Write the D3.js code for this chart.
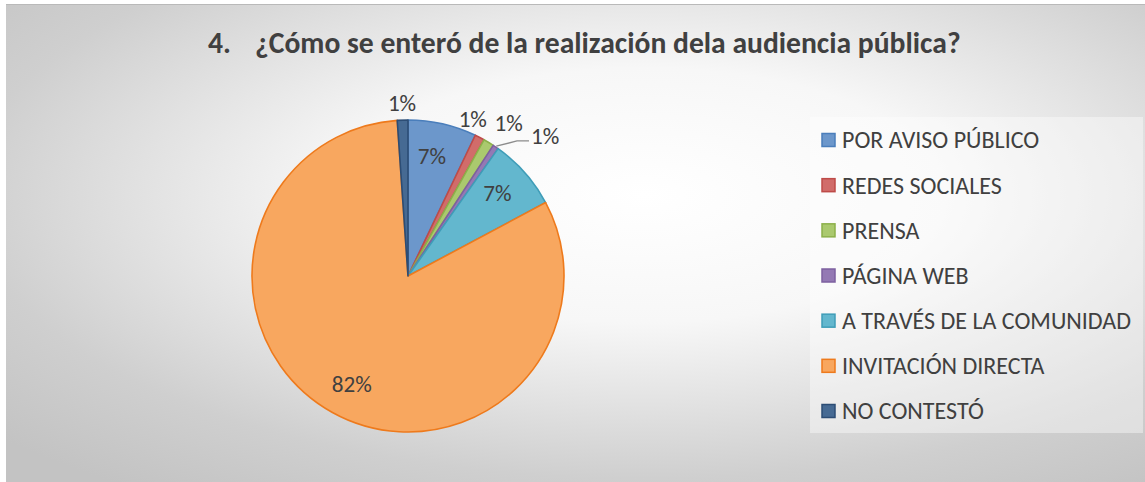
<!DOCTYPE html>
<html>
<head>
<meta charset="utf-8">
<script src="https://cdn.jsdelivr.net/npm/d3@7"></script>
<style>
  html, body { margin: 0; padding: 0; background: #ffffff; }
  svg { display: block; }
  text { font-family: Carlito, Lato, "Open Sans", sans-serif; }
</style>
</head>
<body>
<svg id="chart" width="1145" height="482"></svg>
<script>
// ---- data ----
const titleNumber = "4.";
const titleText = "¿Cómo se enteró de la realización dela audiencia pública?";
const categories = ["POR AVISO PÚBLICO", "REDES SOCIALES", "PRENSA", "PÁGINA WEB",
                    "A TRAVÉS DE LA COMUNIDAD", "INVITACIÓN DIRECTA", "NO CONTESTÓ"];
const values = [7.1, 1.0, 1.1, 0.6, 7.4, 81.7, 1.1];
const fills   = ["#6C97CB", "#D16C6A", "#AAC96E", "#9479B4", "#63B7CE", "#F8A75F", "#466A93"];
const strokes = ["#4A7EBB", "#BE4B48", "#8CB04A", "#7D60A0", "#3F9DB8", "#EE7A1C", "#2C4D75"];

// ---- layout ----
const W = 1145, H = 482;
const svg = d3.select("#chart");
const defs = svg.append("defs");
const grad = defs.append("radialGradient").attr("id", "bg")
  .attr("cx", 0.56).attr("cy", 0.4).attr("r", 0.76);
grad.append("stop").attr("offset", 0).attr("stop-color", "#ffffff");
grad.append("stop").attr("offset", 0.35).attr("stop-color", "#f7f7f7");
grad.append("stop").attr("offset", 0.78).attr("stop-color", "#cfcfcf");
grad.append("stop").attr("offset", 1).attr("stop-color", "#c3c3c3");

svg.append("rect").attr("x", 6).attr("y", 4).attr("width", W - 6).attr("height", H - 4)
  .attr("fill", "url(#bg)");
svg.append("line").attr("x1", 6).attr("x2", W).attr("y1", 4.5).attr("y2", 4.5)
  .attr("stroke", "#b9b9b9").attr("stroke-width", 1);

// ---- title ----
const tNum = svg.append("text").attr("x", 208).attr("y", 53)
  .attr("font-weight", "bold").attr("fill", "#404040").attr("font-size", 22).text(titleNumber);
const tMain = svg.append("text").attr("x", 255).attr("y", 53)
  .attr("font-weight", "bold").attr("fill", "#404040").attr("font-size", 22).text(titleText);
{
  const w = tMain.node().getComputedTextLength();
  const fs = 22 * 706 / w;
  tMain.attr("font-size", fs);
  tNum.attr("font-size", fs);
}

// ---- pie ----
const cx = 408, cy = 276, R = 156;
const pie = d3.pie().sort(null).value(d => d)(values);
const total = d3.sum(values);
const arc = d3.arc().innerRadius(0).outerRadius(R);
const g = svg.append("g").attr("transform", `translate(${cx},${cy})`);
g.selectAll("path.slice").data(pie).join("path")
  .attr("class", "slice")
  .attr("d", arc)
  .attr("fill", (d, i) => fills[i])
  .attr("stroke", (d, i) => strokes[i])
  .attr("stroke-width", 1.6)
  .attr("stroke-linejoin", "round");

// label font: fit so that "82%" is ~40px wide
let labelFont = 20;
{
  const probe = svg.append("text").attr("font-size", 20).text("82%");
  labelFont = 20 * 40 / probe.node().getComputedTextLength();
  probe.remove();
}
const mid = d => (d.startAngle + d.endAngle) / 2;
const pct = v => Math.round(v / total * 100) + "%";
const labels = pie.map((d, i) => ({ d, i, text: pct(d.value), outside: d.value / total < 0.03, a: mid(d) }));
labels.filter(l => !l.outside).forEach(l => { l.r = 122; l.la = l.a - 1.5 * Math.PI / 180; });
const outs = labels.filter(l => l.outside);
const clusters = [];
outs.forEach(l => {
  const last = clusters[clusters.length - 1];
  if (last && (l.a - last[last.length - 1].a) < 12 * Math.PI / 180) last.push(l);
  else clusters.push([l]);
});
const step = 11 * Math.PI / 180;
clusters.forEach(c => {
  if (c.length === 1) { c[0].la = c[0].a; c[0].r = 173; return; }
  const m = d3.mean(c, l => l.a) + 2.5 * Math.PI / 180;
  c.forEach((l, k) => {
    l.la = m + (k - (c.length - 1) / 2) * step;
    l.r = 170 + 13 * k;
  });
});
labels.forEach(l => {
  l.x = cx + l.r * Math.sin(l.la);
  l.y = cy - l.r * Math.cos(l.la);
});
const lg = svg.append("g");
labels.forEach(l => {
  const t = lg.append("text").attr("x", l.x).attr("y", l.y).attr("dy", "0.35em")
    .attr("text-anchor", "middle").attr("font-size", labelFont).attr("fill", "#404040").text(l.text);
  if (l.outside && Math.abs(l.la - l.a) > 8 * Math.PI / 180) {
    const w = t.node().getComputedTextLength();
    const sx = cx + (R + 1) * Math.sin(l.a), sy = cy - (R + 1) * Math.cos(l.a);
    const ex = l.x - w / 2 - 2, ey = l.y + 5;
    lg.insert("polyline", "text").attr("points", `${sx},${sy} ${ex - 12},${ey} ${ex},${ey}`)
      .attr("fill", "none").attr("stroke", "#8c8c8c").attr("stroke-width", 1.3);
  }
});

// ---- legend ----
svg.append("rect").attr("x", 810).attr("y", 117).attr("width", 333).attr("height", 316)
  .attr("fill", "#ffffff").attr("fill-opacity", 0.4);
const legendY = d3.scalePoint().domain(categories).range([140, 411]);
const leg = svg.append("g");
const items = leg.selectAll("g").data(categories).join("g")
  .attr("transform", d => `translate(0,${legendY(d)})`);
items.append("rect").attr("x", 822).attr("y", -6.5).attr("width", 13).attr("height", 13)
  .attr("fill", (d, i) => fills[i]).attr("stroke", (d, i) => strokes[i]).attr("stroke-width", 1.5);
const lt = items.append("text").attr("x", 842).attr("dy", "0.35em").attr("font-size", 18)
  .attr("fill", "#404040").text(d => d);
{
  const maxW = d3.max(lt.nodes(), n => n.getComputedTextLength());
  lt.attr("font-size", 18 * 289 / maxW);
}
</script>
</body>
</html>
